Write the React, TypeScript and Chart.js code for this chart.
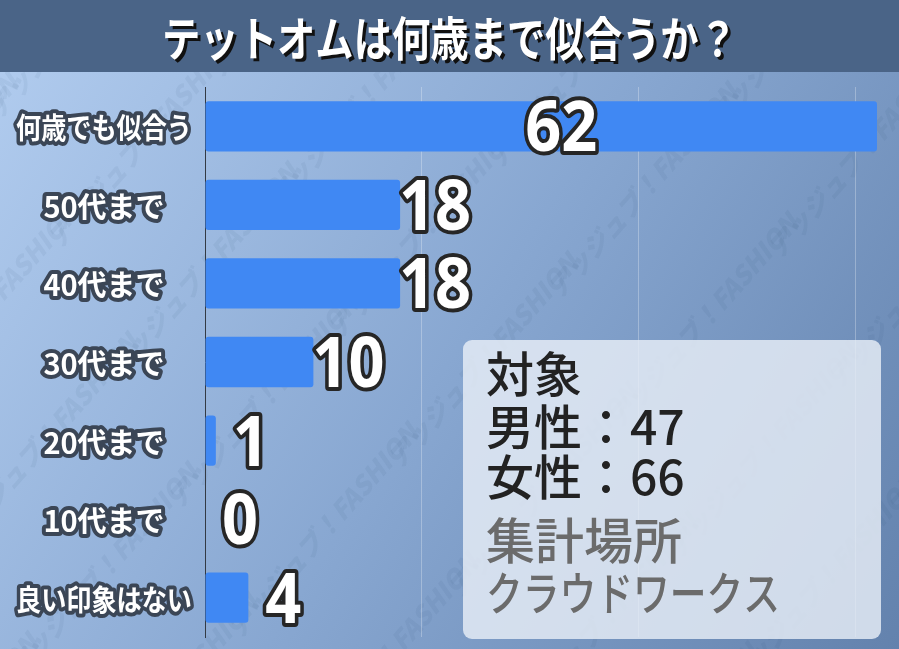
import React, { useEffect, useRef } from "react";
import { Chart, registerables } from "chart.js";
Chart.register(...registerables);

const TITLE = "テットオムは何歳まで似合うか？";
const CATEGORIES = ["何歳でも似合う", "50代まで", "40代まで", "30代まで", "20代まで", "10代まで", "良い印象はない"];
const VALUES = [62, 18, 18, 10, 1, 0, 4];
const X_MAX = 62;
const GRID_STEP = 20;
const INFO_DARK = ["対象", "男性：47", "女性：66"];
const INFO_GRAY = ["集計場所", "クラウドワークス"];
const WATERMARK = "アッジュブ！FASHION";

const JP = '"Noto Sans CJK JP", "Noto Sans", sans-serif';

const backgroundPlugin = {
  id: "bgTitle",
  beforeDraw(chart: any) {
    const { ctx, width, height } = chart;
    ctx.save();
    const g = ctx.createLinearGradient(0, 72, width, height);
    g.addColorStop(0, "#b0cbee");
    g.addColorStop(0.5, "#88a7d1");
    g.addColorStop(1, "#6382ad");
    ctx.fillStyle = g;
    ctx.fillRect(0, 0, width, height);

    // watermark
    ctx.fillStyle = "rgba(40,60,95,0.06)";
    ctx.font = `italic 900 26px ${JP}`;
    for (let row = -2; row < 8; row++) {
      for (let col = -2; col < 8; col++) {
        const x = col * 220 + row * 60;
        const y = 120 + row * 130 + col * -40;
        ctx.save();
        ctx.translate(x, y);
        ctx.rotate(-0.85);
        ctx.fillText(WATERMARK, 0, 0);
        ctx.restore();
      }
    }

    // title bar
    ctx.fillStyle = "#4a6487";
    ctx.fillRect(0, 0, width, 72);
    ctx.font = `bold 47px ${JP}`;
    ctx.textAlign = "center";
    ctx.textBaseline = "middle";
    ctx.fillStyle = "#111";
    ctx.fillText(TITLE, width / 2 + 3, 41, 575);
    ctx.fillStyle = "#ffffff";
    ctx.fillText(TITLE, width / 2, 38, 575);
    ctx.restore();
  },
};

const categoryLabelPlugin = {
  id: "catLabels",
  afterDraw(chart: any) {
    const { ctx } = chart;
    const yScale = chart.scales.y;
    ctx.save();
    ctx.font = `bold 29px ${JP}`;
    ctx.textAlign = "center";
    ctx.textBaseline = "middle";
    ctx.lineJoin = "round";
    CATEGORIES.forEach((label, i) => {
      const y = yScale.getPixelForValue(i) + 2;
      const x = 104;
      const maxW = 176;
      ctx.strokeStyle = "#3b4656";
      ctx.lineWidth = 8;
      ctx.strokeText(label, x, y, maxW);
      ctx.fillStyle = "#ffffff";
      ctx.fillText(label, x, y, maxW);
    });
    ctx.restore();
  },
};

const valueLabelPlugin = {
  id: "valueLabels",
  afterDatasetsDraw(chart: any) {
    const { ctx, chartArea } = chart;
    const meta = chart.getDatasetMeta(0);
    ctx.save();
    ctx.font = `bold 70px "Noto Sans", "Open Sans", sans-serif`;
    ctx.textBaseline = "alphabetic";
    ctx.lineJoin = "round";
    meta.data.forEach((bar: any, i: number) => {
      const txt = String(VALUES[i]);
      const sx = 0.9;
      const w = ctx.measureText(txt).width * sx;
      let cx = bar.x + 35;
      if (cx + w / 2 > chartArea.right) {
        cx = (bar.x + bar.base) / 2 + 20;
      }
      const y = bar.y + 25;
      ctx.save();
      ctx.translate(cx, y);
      ctx.scale(sx, 1);
      ctx.textAlign = "center";
      ctx.strokeStyle = "#262626";
      ctx.lineWidth = 8;
      ctx.strokeText(txt, 0, 0);
      ctx.fillStyle = "#ffffff";
      ctx.fillText(txt, 0, 0);
      ctx.restore();
    });
    ctx.restore();
  },
};

const infoBoxPlugin = {
  id: "infoBox",
  afterDraw(chart: any) {
    const { ctx } = chart;
    ctx.save();
    const x = 463, y = 340, w = 418, h = 299, r = 9;
    ctx.beginPath();
    ctx.roundRect(x, y, w, h, r);
    ctx.fillStyle = "rgba(232,238,247,0.82)";
    ctx.fill();
    ctx.textAlign = "left";
    ctx.textBaseline = "middle";
    ctx.font = `500 48px ${JP}`;
    ctx.fillStyle = "#222222";
    const darkY = [374, 427, 477];
    INFO_DARK.forEach((t, i) => ctx.fillText(t, 486, darkY[i]));
    ctx.fillStyle = "#6b6b6b";
    ctx.font = `500 49px ${JP}`;
    ctx.fillText(INFO_GRAY[0], 486, 540, 197);
    ctx.font = `500 46px ${JP}`;
    ctx.fillText(INFO_GRAY[1], 486, 593, 294);
    ctx.restore();
  },
};

export default function App() {
  const ref = useRef<HTMLCanvasElement | null>(null);
  useEffect(() => {
    document.body.style.margin = "0";
    const canvas = ref.current!;
    const chart = new Chart(canvas, {
      type: "bar",
      data: {
        labels: CATEGORIES,
        datasets: [
          {
            data: VALUES,
            backgroundColor: "#4088f3",
            borderRadius: 3,
            borderSkipped: false,
            barPercentage: 0.64,
            categoryPercentage: 1,
          },
        ],
      },
      options: {
        indexAxis: "y",
        responsive: false,
        animation: false,
        layout: { padding: { top: 87, bottom: 12, right: 22, left: 0 } },
        plugins: { legend: { display: false }, tooltip: { enabled: false }, title: { display: false } },
        scales: {
          x: {
            min: 0,
            max: X_MAX,
            ticks: { display: false, stepSize: GRID_STEP, includeBounds: false },
            grid: { color: "rgba(255,255,255,0.28)", lineWidth: 1, drawTicks: false },
            border: { display: false },
            afterFit(scale: any) {
              scale.height = 0;
            },
          },
          y: {
            grid: { display: false, drawTicks: false },
            border: { display: true, color: "#333a44", width: 1 },
            ticks: { display: false },
            afterFit(scale: any) {
              scale.width = 205;
            },
          },
        },
      } as any,
      plugins: [backgroundPlugin, valueLabelPlugin, categoryLabelPlugin, infoBoxPlugin],
    });
    return () => chart.destroy();
  }, []);
  return (
    <div style={{ width: 899, height: 649 }}>
      <canvas ref={ref} width={899} height={649} />
    </div>
  );
}
